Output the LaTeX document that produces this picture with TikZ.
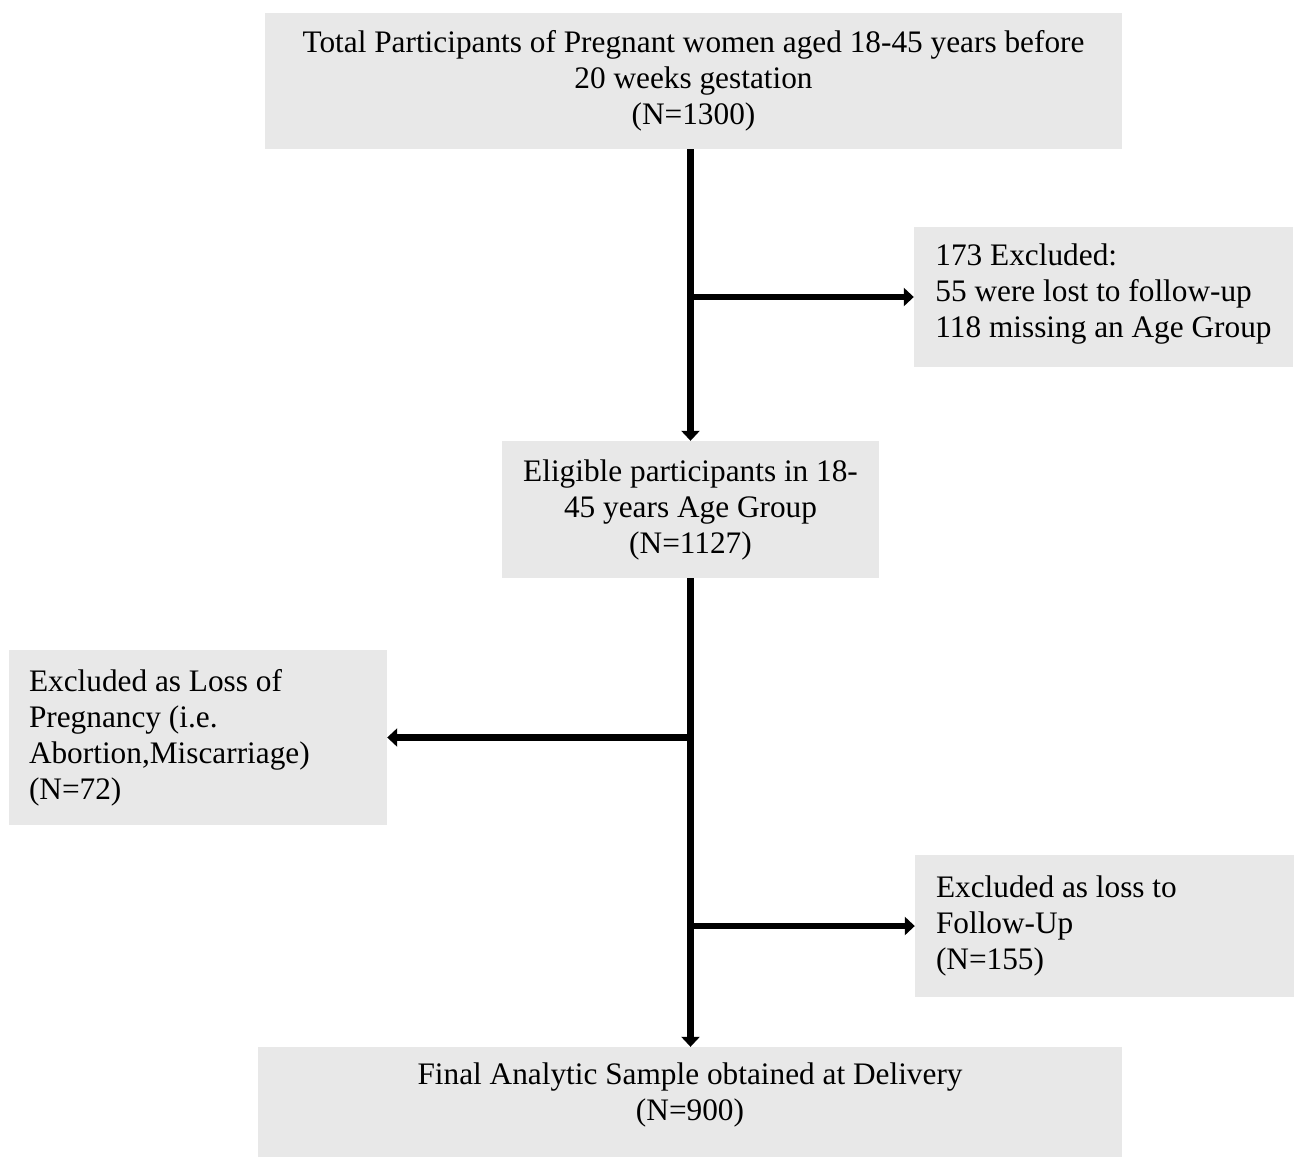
\documentclass[tikz,border=0pt]{standalone}
\usepackage{fontspec}
\setmainfont{Liberation Serif}
\usetikzlibrary{arrows.meta}
\definecolor{boxgray}{HTML}{E8E8E8}
\begin{document}
\begin{tikzpicture}[x=1pt,y=-1pt,
  box/.style={rectangle,fill=boxgray,draw=none,inner sep=0pt,
    font=\fontsize{31.3}{36}\selectfont},
  lbox/.style={box,align=flush left,text width=#1},
  cbox/.style={box,align=center},
  arr/.style={line width=6.5pt,-{Triangle[width=18pt,length=10pt]}}]
\useasboundingbox[fill=white] (0,0) rectangle (1295,1165);
\node[cbox,minimum width=857,minimum height=136] (top) at (693.5,81)
  {Total Participants of Pregnant women aged 18-45 years before\\20 weeks gestation\\(N=1300)};
\node[box,align=left,minimum width=379,minimum height=140,text depth=13pt] (ex1) at (1103.5,297)
  {173 Excluded:\\55 were lost to follow-up\\118 missing an Age Group};
\node[cbox,minimum width=377,minimum height=137] (elig) at (690.5,509.5)
  {Eligible participants in 18-\\45 years Age Group\\(N=1127)};
\node[lbox=338pt,minimum width=378,minimum height=175] (ex2) at (198,737.5)
  {Excluded as Loss of\\Pregnancy (i.e.\\Abortion,Miscarriage)\\(N=72)};
\node[lbox=337pt,minimum width=379,minimum height=142] (ex3) at (1104.5,926)
  {Excluded as loss to\\Follow-Up\\(N=155)\\[6pt]};
\node[cbox,minimum width=864,minimum height=110,text depth=20pt] (final) at (690,1102)
  {Final Analytic Sample obtained at Delivery\\(N=900)};
\coordinate (b1) at (elig.north |- ex1.west);
\coordinate (b2) at (elig.south |- ex2.east);
\coordinate (b3) at (elig.south |- ex3.west);
\draw[arr] (top.south -| elig.north) -- (elig.north);
\draw[arr] (b1) -- (ex1.west);
\draw[arr] (elig.south) -- (elig.south |- final.north);
\draw[arr] (b2) -- (ex2.east);
\draw[arr] (b3) -- (ex3.west);
\end{tikzpicture}
\end{document}
